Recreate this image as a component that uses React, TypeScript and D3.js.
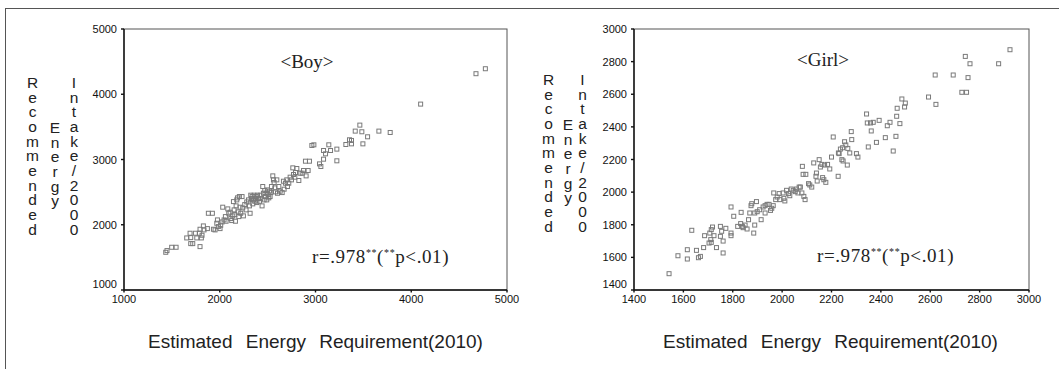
import React from 'react';
import * as d3 from 'd3';

// ---------- Data ----------
const boyEER = [
  1436, 1449, 1498, 1544, 1655, 1690, 1697, 1746, 1787, 1697, 1718, 1794, 1760, 1808, 1815, 1836, 1794, 1829,
  1881, 1923, 1871, 1934, 1951, 1969, 1976, 1986, 2003, 2010, 2031, 2024, 2045, 2059, 2066, 2084, 2094, 2108,
  2115, 2125, 2136, 2143, 2150, 2157, 2164, 2171, 2178, 2185, 2192, 2199, 2205, 2212, 2219, 2233, 2240, 2247,
  2261, 2275, 2282, 2300, 2310, 2317, 2324, 2331, 2338, 2345, 2352, 2359, 2366, 2373, 2380, 2387, 2394, 2404,
  2415, 2422, 2429, 2442, 2449, 2456, 2463, 2470, 2477, 2484, 2491, 2498, 2505, 2512, 2519, 2526, 2533, 2540,
  2554, 2561, 2568, 2575, 2582, 2596, 2603, 2617, 2631, 2652, 2665, 2672, 2686, 2700, 2707, 2721, 2735, 2749,
  2763, 2770, 2784, 2791, 2805, 2826, 2840, 2861, 2875, 2902, 2923, 2895, 2937, 2962, 2983, 3042, 3056, 3084,
  3105, 3084, 3139, 3157, 3223, 3223, 3317, 3355, 3376, 3376, 3415, 3463, 3484, 3495, 3544, 3662, 3780, 4098,
  4676, 4774,
];
const boyRecommended = [
  1578, 1604, 1655, 1655, 1798, 1870, 1803, 1870, 1870, 1711, 1711, 1665, 1798, 1798, 1839, 1921, 1931, 1982,
  2176, 2176, 1941, 1931, 1921, 2023, 2074, 1972, 1941, 1992, 2269, 2043, 2074, 2125, 2054, 2243, 2176, 2192,
  2095, 2064, 2136, 2355, 2228, 2156, 2054, 2289, 2381, 2412, 2197, 2125, 2432, 2269, 2176, 2432, 2258, 2136,
  2309, 2228, 2350, 2381, 2289, 2176, 2453, 2401, 2432, 2320, 2381, 2453, 2360, 2401, 2432, 2340, 2453, 2401,
  2360, 2453, 2401, 2289, 2586, 2483, 2381, 2524, 2432, 2483, 2381, 2534, 2463, 2412, 2514, 2432, 2493, 2586,
  2749, 2688, 2647, 2565, 2504, 2688, 2483, 2586, 2514, 2493, 2667, 2545, 2637, 2688, 2586, 2637, 2729, 2688,
  2872, 2770, 2729, 2800, 2862, 2678, 2790, 2790, 2831, 2749, 2831, 2974, 2974, 3215, 3225, 2933, 2893, 3005,
  3087, 3138, 3225, 3138, 3159, 2980, 3230, 3302, 3292, 3240, 3435, 3527, 3425, 3240, 3348, 3435, 3414, 3849,
  4315, 4391,
];

const girlEER = [
  1542, 1578, 1616, 1616, 1634, 1653, 1661, 1669, 1686, 1682,
  1707, 1713, 1718, 1724, 1711, 1704, 1713, 1734, 1750, 1755, 1750, 1761, 1761, 1772, 1793, 1793, 1793, 1804,
  1820, 1834, 1832, 1839, 1842, 1850, 1858, 1864, 1869, 1874, 1877, 1885, 1889, 1889, 1896, 1899, 1909, 1915,
  1923, 1931, 1931, 1939, 1947, 1953, 1958, 1964, 1966, 1974, 1980, 1988, 1991, 2004, 2007, 2011, 2018, 2026,
  2031, 2037, 2045, 2053, 2058, 2064, 2069, 2074, 2080, 2082, 2085, 2088, 2093, 2096, 2107, 2112, 2120, 2128,
  2139, 2137, 2142, 2150, 2155, 2161, 2164, 2169, 2172, 2177, 2184, 2193, 2200, 2207, 2227, 2228, 2231, 2236,
  2242, 2245, 2247, 2253, 2258, 2264, 2266, 2274, 2280, 2282, 2301, 2307, 2342, 2345, 2349, 2358, 2361, 2369,
  2382, 2393, 2418, 2426, 2437, 2450, 2461, 2464, 2466, 2477, 2485, 2496, 2499, 2593, 2623, 2620, 2693, 2728,
  2747, 2742, 2753, 2761, 2877, 2923,
];
const girlRecommended = [
  1500, 1610, 1647, 1590, 1766, 1643, 1598, 1606, 1733, 1660,
  1749, 1770, 1786, 1733, 1709, 1688, 1692, 1660, 1790, 1760, 1729, 1700, 1627, 1778, 1909, 1749, 1733, 1852,
  1790, 1876, 1807, 1790, 1782, 1798, 1774, 1831, 1872, 1917, 1929, 1749, 1798, 1872, 1942, 1880, 1892, 1831,
  1909, 1917, 1872, 1925, 1925, 1888, 1901, 1917, 1995, 1954, 1970, 1991, 1954, 1995, 1962, 1946, 2011, 1991,
  1978, 2019, 2011, 2003, 2019, 1995, 2031, 2031, 1995, 2158, 2109, 1974, 1954, 2109, 2052, 2044, 2031, 2179,
  2117, 2097, 2068, 2199, 2154, 2170, 2089, 2076, 2166, 2060, 2170, 2142, 2215, 2338, 2097, 2240, 2236, 2264,
  2199, 2272, 2191, 2309, 2289, 2166, 2268, 2240, 2371, 2322, 2236, 2215, 2479, 2424, 2277, 2424, 2375, 2428,
  2305, 2440, 2334, 2407, 2428, 2252, 2342, 2465, 2514, 2420, 2571, 2522, 2546, 2583, 2538, 2718, 2718, 2612,
  2612, 2832, 2702, 2787, 2787, 2873,
];

const boyXTicks = [1000, 2000, 3000, 4000, 5000];
const boyYTicks = [1000, 2000, 3000, 4000, 5000];
const girlXTicks = [1400, 1600, 1800, 2000, 2200, 2400, 2600, 2800, 3000];
const girlYTicks = [1400, 1600, 1800, 2000, 2200, 2400, 2600, 2800, 3000];

const xTitle = 'Estimated Energy Requirement(2010)';
const yTitleLines = ['Recommended', 'Energy', 'Intake/2000'];
const boyTitle = '<Boy>';
const girlTitle = '<Girl>';

// ---------- Panel ----------
type PanelProps = {
  left: number; right: number; top: number; bottom: number;
  xDomain: [number, number]; yDomain: [number, number];
  xTicks: number[]; yTicks: number[];
  xs: number[]; ys: number[];
  title: string; titleX: number; titleY: number;
  rX: number; rY: number;
  colX: number[]; labelTop: number;
  xTitleX: number; xTitleY: number;
};

const SANS = '"Liberation Sans", Arial, sans-serif';
const SERIF = '"Liberation Serif", "Times New Roman", serif';

function Panel(p: PanelProps) {
  const x = d3.scaleLinear().domain(p.xDomain).range([p.left, p.right]);
  const y = d3.scaleLinear().domain(p.yDomain).range([p.bottom, p.top]);
  const step = 15;
  const fs = 15.5;
  const starts = [0, 3, 0];
  return (
    <g>
      {/* frame */}
      <rect x={p.left} y={p.top} width={p.right - p.left} height={p.bottom - p.top}
        fill="none" stroke="#555" strokeWidth={1} />
      <line x1={p.left} x2={p.left} y1={p.top} y2={p.bottom} stroke="#111" strokeWidth={1.4} />
      <line x1={p.left} x2={p.right} y1={p.bottom} y2={p.bottom} stroke="#111" strokeWidth={1.4} />
      {/* y ticks */}
      {p.yTicks.map((t, i) => (
        <g key={'y' + t}>
          <line x1={p.left - 3} x2={p.left} y1={y(t)} y2={y(t)} stroke="#111" strokeWidth={1.4} />
          <text x={p.left - 7} y={y(t) + 4 - (i === 0 ? 6 : 0)} textAnchor="end"
            fontFamily={SANS} fontSize={11} fill="#111">{t}</text>
        </g>
      ))}
      {/* x ticks */}
      {p.xTicks.map((t) => (
        <g key={'x' + t}>
          <line x1={x(t)} x2={x(t)} y1={p.bottom} y2={p.bottom + 2.5} stroke="#111" strokeWidth={1.4} />
          <text x={x(t)} y={p.bottom + 12.5} textAnchor="middle"
            fontFamily={SANS} fontSize={11} fill="#111">{t}</text>
        </g>
      ))}
      {/* points */}
      {p.xs.map((v, i) => (
        <rect key={'p' + i} x={x(v) - 2} y={y(p.ys[i]) - 2} width={4} height={4}
          fill="none" stroke="#7a7a7a" strokeWidth={1} />
      ))}
      {/* title */}
      <text x={p.titleX} y={p.titleY} textAnchor="middle" fontFamily={SERIF} fontSize={19} fill="#222">{p.title}</text>
      {/* r text */}
      <text x={p.rX} y={p.rY} fontFamily={SERIF} fontSize={19} fill="#222" letterSpacing={0.6}>
        <tspan>r=.978</tspan>
        <tspan fontSize={10} dy={-7}>**</tspan>
        <tspan dy={7}>(</tspan>
        <tspan fontSize={10} dy={-7}>**</tspan>
        <tspan dy={7}>p&lt;.01)</tspan>
      </text>
      {/* x axis title */}
      <text x={p.xTitleX} y={p.xTitleY} fontFamily={SANS} fontSize={19} fill="#222"
        wordSpacing={8}>{xTitle}</text>
      {/* y axis title, stacked upright letters */}
      {yTitleLines.map((line, c) => (
        <text key={'yt' + c} x={p.colX[c]} y={p.labelTop + starts[c] * step}
          fontFamily={SANS} fontSize={fs} fill="#222"
          style={{ writingMode: 'vertical-rl', textOrientation: 'upright' } as any}
          letterSpacing={step - fs * 1.117}>{line}</text>
      ))}
    </g>
  );
}

export default function App() {
  return (
    <div style={{ position: 'absolute', left: 0, top: 0 }}>
      <svg width={1059} height={369} style={{ display: 'block', background: '#fff' }}>
        <rect x={0} y={0} width={1059} height={369} fill="#fff" />
        <line x1={5} x2={1059} y1={8.5} y2={8.5} stroke="#555" strokeWidth={1} />
        <line x1={5.5} x2={5.5} y1={8} y2={369} stroke="#555" strokeWidth={1} />
        <Panel left={124} right={507} top={29} bottom={290}
          xDomain={[1000, 5000]} yDomain={[1000, 5000]}
          xTicks={boyXTicks} yTicks={boyYTicks}
          xs={boyEER} ys={boyRecommended}
          title={boyTitle} titleX={307} titleY={68}
          rX={312} rY={263}
          colX={[32.5, 55, 74]} labelTop={74}
          xTitleX={148} xTitleY={348} />
        <Panel left={634} right={1029} top={29} bottom={290}
          xDomain={[1400, 3000]} yDomain={[1400, 3000]}
          xTicks={girlXTicks} yTicks={girlYTicks}
          xs={girlEER} ys={girlRecommended}
          title={girlTitle} titleX={823} titleY={66}
          rX={817} rY={262}
          colX={[548.5, 568, 582.5]} labelTop={71}
          xTitleX={663} xTitleY={348} />
      </svg>
    </div>
  );
}
